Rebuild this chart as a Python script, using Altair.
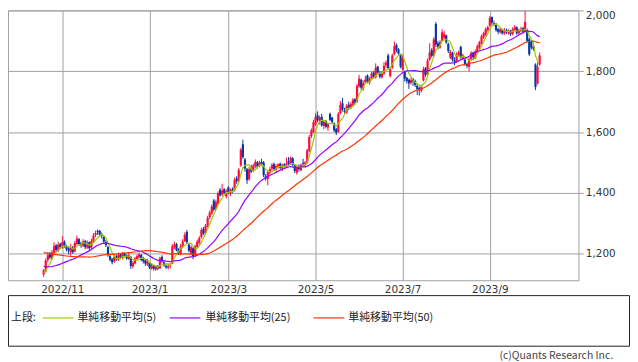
import altair as alt
import pandas as pd

# ---- data ----
# closes before the first displayed day (only used for the moving averages)
pre_closes = [1262, 1270, 1278, 1268, 1255, 1248, 1260, 1272, 1280, 1275,
              1262, 1250, 1244, 1238, 1252, 1258, 1246, 1236, 1230, 1240,
              1248, 1236, 1226, 1218, 1213,
              1205, 1196, 1188, 1192, 1180, 1170, 1176, 1165, 1158, 1162,
              1150, 1142, 1148, 1155, 1160, 1152, 1145, 1138, 1146, 1150,
              1142, 1136, 1130, 1132]

opens = [1132, 1142, 1180, 1200, 1185, 1203, 1228, 1210, 1232, 1220,
         1240, 1226, 1218, 1205, 1220, 1208, 1232, 1248, 1234, 1226,
         1242, 1220, 1238, 1220, 1240, 1262, 1275, 1276, 1260, 1255,
         1238, 1222, 1192, 1182, 1175, 1192, 1180, 1198, 1186, 1202,
         1195, 1183, 1190, 1158, 1168, 1182, 1188, 1196, 1185, 1178,
         1165, 1170, 1152, 1160, 1148, 1160, 1152, 1190, 1172, 1160,
         1155, 1162, 1168, 1222, 1232, 1215, 1198, 1222, 1242, 1272,
         1230, 1200, 1218, 1195, 1222, 1236, 1255, 1282, 1268, 1290,
         1320, 1332, 1375, 1348, 1365, 1410, 1395, 1412, 1388, 1418,
         1398, 1412, 1410, 1448, 1440, 1490, 1560, 1510, 1478, 1445,
         1480, 1472, 1488, 1500, 1488, 1502, 1500, 1455, 1446, 1465,
         1480, 1495, 1476, 1486, 1496, 1480, 1494, 1488, 1505, 1496,
         1514, 1490, 1466, 1482, 1475, 1498, 1494, 1500, 1538, 1586,
         1600, 1625, 1655, 1636, 1650, 1620, 1636, 1615, 1660, 1648,
         1628, 1610, 1600, 1662, 1695, 1670, 1664, 1690, 1680, 1688,
         1708, 1700, 1750, 1772, 1744, 1764, 1786, 1762, 1775, 1796,
         1780, 1815, 1795, 1780, 1792, 1820, 1852, 1784, 1812, 1856,
         1886, 1872, 1855, 1806, 1798, 1778, 1772, 1762, 1774, 1768,
         1752, 1745, 1736, 1770, 1810, 1790, 1838, 1870, 1852, 1955,
         1892, 1878, 1900, 1910, 1918, 1890, 1845, 1860, 1836, 1832,
         1852, 1880, 1842, 1838, 1824, 1814, 1838, 1862, 1844, 1864,
         1878, 1892, 1912, 1920, 1935, 1950, 1978, 1958, 1956, 1938,
         1928, 1936, 1924, 1936, 1926, 1934, 1922, 1936, 1944, 1926,
         1932, 1942, 1932, 1935, 1905, 1898, 1880, 1822, 1760, 1822]

highs = [1150, 1185, 1205, 1206, 1212, 1238, 1232, 1240, 1236, 1258,
         1244, 1230, 1224, 1232, 1226, 1242, 1260, 1252, 1240, 1248,
         1246, 1244, 1240, 1250, 1268, 1276, 1280, 1278, 1270, 1258,
         1245, 1226, 1198, 1186, 1198, 1196, 1204, 1202, 1206, 1205,
         1198, 1202, 1192, 1176, 1190, 1198, 1204, 1199, 1190, 1182,
         1184, 1172, 1168, 1164, 1162, 1163, 1190, 1195, 1176, 1168,
         1165, 1170, 1232, 1240, 1236, 1218, 1232, 1248, 1270, 1278,
         1234, 1228, 1222, 1230, 1246, 1258, 1285, 1288, 1298, 1325,
         1342, 1362, 1380, 1378, 1405, 1416, 1430, 1416, 1412, 1422,
         1415, 1418, 1450, 1455, 1482, 1548, 1575, 1515, 1482, 1485,
         1492, 1496, 1510, 1505, 1506, 1512, 1505, 1462, 1472, 1485,
         1498, 1500, 1494, 1498, 1500, 1496, 1498, 1516, 1518, 1520,
         1518, 1494, 1490, 1494, 1496, 1512, 1505, 1545, 1590, 1612,
         1640, 1662, 1668, 1654, 1660, 1640, 1640, 1630, 1664, 1650,
         1632, 1614, 1666, 1702, 1712, 1680, 1692, 1700, 1698, 1712,
         1712, 1758, 1788, 1776, 1770, 1785, 1790, 1782, 1798, 1800,
         1826, 1818, 1800, 1800, 1830, 1836, 1858, 1812, 1858, 1898,
         1892, 1876, 1858, 1852, 1802, 1782, 1776, 1780, 1778, 1772,
         1758, 1750, 1756, 1815, 1814, 1842, 1892, 1876, 1912, 1962,
         1900, 1902, 1938, 1932, 1920, 1894, 1870, 1864, 1846, 1862,
         1868, 1884, 1858, 1840, 1828, 1846, 1866, 1864, 1872, 1888,
         1900, 1920, 1930, 1944, 1950, 1982, 1980, 1966, 1958, 1942,
         1944, 1940, 1942, 1940, 1938, 1936, 1944, 1952, 1948, 1940,
         1946, 1946, 1998, 1940, 1910, 1902, 1884, 1826, 1830, 1862]

lows = [1124, 1138, 1172, 1182, 1180, 1198, 1205, 1206, 1215, 1216,
        1220, 1208, 1198, 1194, 1200, 1204, 1228, 1226, 1220, 1222,
        1215, 1216, 1210, 1215, 1236, 1255, 1262, 1256, 1250, 1232,
        1222, 1190, 1175, 1165, 1170, 1176, 1176, 1182, 1182, 1188,
        1180, 1180, 1150, 1152, 1165, 1178, 1185, 1175, 1168, 1160,
        1160, 1150, 1148, 1145, 1144, 1146, 1150, 1170, 1158, 1150,
        1148, 1152, 1166, 1215, 1208, 1196, 1195, 1218, 1238, 1232,
        1205, 1195, 1182, 1190, 1218, 1230, 1250, 1262, 1264, 1286,
        1314, 1328, 1340, 1344, 1360, 1388, 1390, 1394, 1382, 1396,
        1390, 1400, 1405, 1430, 1436, 1486, 1512, 1470, 1430, 1440,
        1465, 1468, 1482, 1480, 1484, 1490, 1452, 1440, 1425, 1460,
        1472, 1474, 1470, 1480, 1476, 1472, 1484, 1484, 1490, 1492,
        1488, 1466, 1460, 1470, 1470, 1488, 1482, 1496, 1534, 1580,
        1596, 1620, 1632, 1625, 1618, 1610, 1612, 1604, 1636, 1626,
        1600, 1590, 1598, 1658, 1668, 1660, 1660, 1672, 1676, 1684,
        1690, 1696, 1746, 1738, 1736, 1758, 1760, 1756, 1770, 1776,
        1776, 1790, 1776, 1776, 1788, 1812, 1806, 1780, 1808, 1852,
        1862, 1852, 1810, 1802, 1766, 1760, 1742, 1756, 1752, 1748,
        1722, 1720, 1730, 1766, 1782, 1786, 1834, 1845, 1848, 1880,
        1872, 1874, 1896, 1905, 1890, 1860, 1840, 1832, 1820, 1828,
        1848, 1840, 1836, 1818, 1810, 1800, 1834, 1840, 1840, 1860,
        1872, 1888, 1906, 1915, 1930, 1946, 1952, 1948, 1930, 1922,
        1924, 1920, 1920, 1922, 1920, 1916, 1918, 1932, 1920, 1922,
        1928, 1924, 1928, 1895, 1850, 1872, 1868, 1738, 1756, 1818]

closes = [1145, 1178, 1195, 1188, 1205, 1225, 1212, 1230, 1222, 1238,
          1225, 1215, 1210, 1222, 1205, 1235, 1250, 1232, 1228, 1240,
          1222, 1236, 1218, 1242, 1260, 1268, 1272, 1262, 1258, 1240,
          1228, 1195, 1180, 1172, 1190, 1182, 1195, 1188, 1200, 1192,
          1185, 1196, 1160, 1170, 1185, 1192, 1198, 1180, 1175, 1168,
          1178, 1155, 1162, 1150, 1158, 1152, 1185, 1175, 1162, 1155,
          1160, 1165, 1225, 1230, 1212, 1200, 1225, 1240, 1262, 1238,
          1210, 1222, 1192, 1225, 1240, 1252, 1278, 1266, 1292, 1318,
          1335, 1355, 1345, 1370, 1398, 1392, 1408, 1400, 1406, 1400,
          1410, 1405, 1442, 1438, 1476, 1542, 1518, 1480, 1442, 1478,
          1470, 1490, 1502, 1486, 1500, 1495, 1458, 1448, 1468, 1478,
          1492, 1478, 1488, 1494, 1482, 1490, 1486, 1496, 1494, 1515,
          1492, 1472, 1485, 1478, 1492, 1495, 1500, 1540, 1584, 1605,
          1632, 1650, 1640, 1648, 1622, 1634, 1618, 1626, 1640, 1632,
          1606, 1598, 1660, 1690, 1674, 1666, 1686, 1678, 1692, 1706,
          1696, 1752, 1776, 1746, 1762, 1772, 1765, 1776, 1792, 1782,
          1812, 1796, 1782, 1794, 1818, 1828, 1810, 1806, 1852, 1882,
          1870, 1858, 1815, 1845, 1776, 1768, 1760, 1772, 1765, 1755,
          1742, 1738, 1750, 1806, 1788, 1835, 1862, 1850, 1905, 1888,
          1880, 1896, 1928, 1922, 1895, 1866, 1864, 1838, 1830, 1856,
          1862, 1845, 1852, 1822, 1818, 1840, 1860, 1846, 1866, 1882,
          1895, 1915, 1925, 1938, 1945, 1975, 1960, 1955, 1935, 1930,
          1938, 1925, 1935, 1928, 1932, 1922, 1938, 1945, 1925, 1935,
          1940, 1930, 1962, 1900, 1856, 1878, 1874, 1748, 1815, 1852]

tick_idx = [9, 51, 89, 131, 173, 215]
tick_labels = ["2022/11", "2023/1", "2023/3", "2023/5", "2023/7", "2023/9"]
y_ticks = [1200, 1400, 1600, 1800, 2000]
legend_prefix = "上段:"
ma_labels = ["単純移動平均(5)", "単純移動平均(25)", "単純移動平均(50)"]
ma_windows = [5, 25, 50]
credit = "(c)Quants Research Inc."

# ---- styles ----
UP = "#ff0a3c"
DOWN = "#0836a4"
MA_COLORS = ["#99cc00", "#9900ff", "#ff3300"]
GRID = "#a0a0a0"
FONT = "DejaVu Sans"
JP = "Noto Sans CJK JP"

n = len(closes)
idx = list(range(n))
df = pd.DataFrame({"i": idx, "open": opens, "high": highs, "low": lows, "close": closes})
df["dir"] = ["up" if c >= o else "down" for o, c in zip(opens, closes)]

allc = pd.Series(pre_closes + closes, dtype=float)
rows = []
for w, name in zip(ma_windows, ma_labels):
    m = allc.rolling(w).mean().iloc[len(pre_closes):].tolist()
    for i, v in zip(idx, m):
        rows.append({"i": i, "ma": v, "series": name})
ma_df = pd.DataFrame(rows)

label_expr = "".join(f"datum.value == {t} ? '{l}' : " for t, l in zip(tick_idx, tick_labels)) + "''"

xscale = alt.Scale(domain=[-14.8, 255.3], nice=False, zero=False)
yscale = alt.Scale(domain=[1113, 2000], nice=False, zero=False)
xaxis = alt.Axis(values=tick_idx, labelExpr=label_expr, grid=True, gridColor=GRID, gridWidth=1,
                 ticks=False, tickSize=0, domain=False, labelFont=FONT, labelFontSize=10.5,
                 labelColor="#333333", labelPadding=4, title=None, labelFlush=False, labelOverlap=False)
yaxis = alt.Axis(orient="right", values=y_ticks, format=",.0f", grid=True, gridColor=GRID, gridWidth=1,
                 ticks=True, tickSize=5, tickColor=GRID, domain=False, labelFont=FONT, labelFontSize=10.5,
                 labelColor="#333333", labelPadding=2, labelFlush=True, title=None, labelOverlap=False)

color = alt.Color("dir:N", scale=alt.Scale(domain=["up", "down"], range=[UP, DOWN]), legend=None)

wicks = alt.Chart(df).mark_rule(strokeWidth=1).encode(
    x=alt.X("i:Q", scale=xscale, axis=xaxis),
    y=alt.Y("low:Q", scale=yscale, axis=yaxis),
    y2="high:Q",
    color=color,
)
bodies = alt.Chart(df).mark_bar(size=2.2).encode(
    x=alt.X("i:Q", scale=xscale, axis=xaxis),
    y=alt.Y("open:Q", scale=yscale, axis=yaxis),
    y2="close:Q",
    color=color,
)
candles = alt.layer(wicks, bodies)

lines = alt.Chart(ma_df).mark_line(strokeWidth=1.2, interpolate="linear").encode(
    x=alt.X("i:Q", scale=xscale, axis=xaxis),
    y=alt.Y("ma:Q", scale=yscale, axis=yaxis),
    color=alt.Color("series:N", scale=alt.Scale(domain=ma_labels[::-1], range=MA_COLORS[::-1]), legend=None),
    order=alt.Order("i:Q"),
)

one = pd.DataFrame({"k": [0]})
extras = []

box = alt.Chart(one).mark_rect(filled=False, stroke="#222222", strokeWidth=1).encode(
    x=alt.value(0.5), x2=alt.value(626.5), y=alt.value(287.5), y2=alt.value(338.5))
extras.append(box)

LEG_Y = 310
prefix = alt.Chart(pd.DataFrame({"t": [legend_prefix]})).mark_text(
    align="left", baseline="middle", font=JP, fontSize=11, color="#222222").encode(
    x=alt.value(3), y=alt.value(LEG_Y), text="t:N")
extras.append(prefix)

line_x = [35, 163, 308]
text_x = [70, 199, 343]
for lab, col, lx, tx in zip(ma_labels, MA_COLORS, line_x, text_x):
    extras.append(alt.Chart(one).mark_rule(color=col, strokeWidth=1.2).encode(
        x=alt.value(lx), x2=alt.value(lx + 31), y=alt.value(LEG_Y)))
    extras.append(alt.Chart(pd.DataFrame({"t": [lab]})).mark_text(
        align="left", baseline="middle", font=JP, fontSize=11, color="#222222").encode(
        x=alt.value(tx), y=alt.value(LEG_Y), text="t:N"))

cred = alt.Chart(pd.DataFrame({"t": [credit]})).mark_text(
    align="right", baseline="middle", font=JP, fontSize=10.5, color="#444444").encode(
    x=alt.value(610), y=alt.value(348), text="t:N")
extras.append(cred)

chart = alt.layer(candles, lines, *extras).resolve_scale(color="independent").properties(
    width=575, height=272, padding=0).configure_view(stroke=GRID, strokeWidth=1)

chart.save("out.html", embed_options={"renderer": "svg", "actions": False})
